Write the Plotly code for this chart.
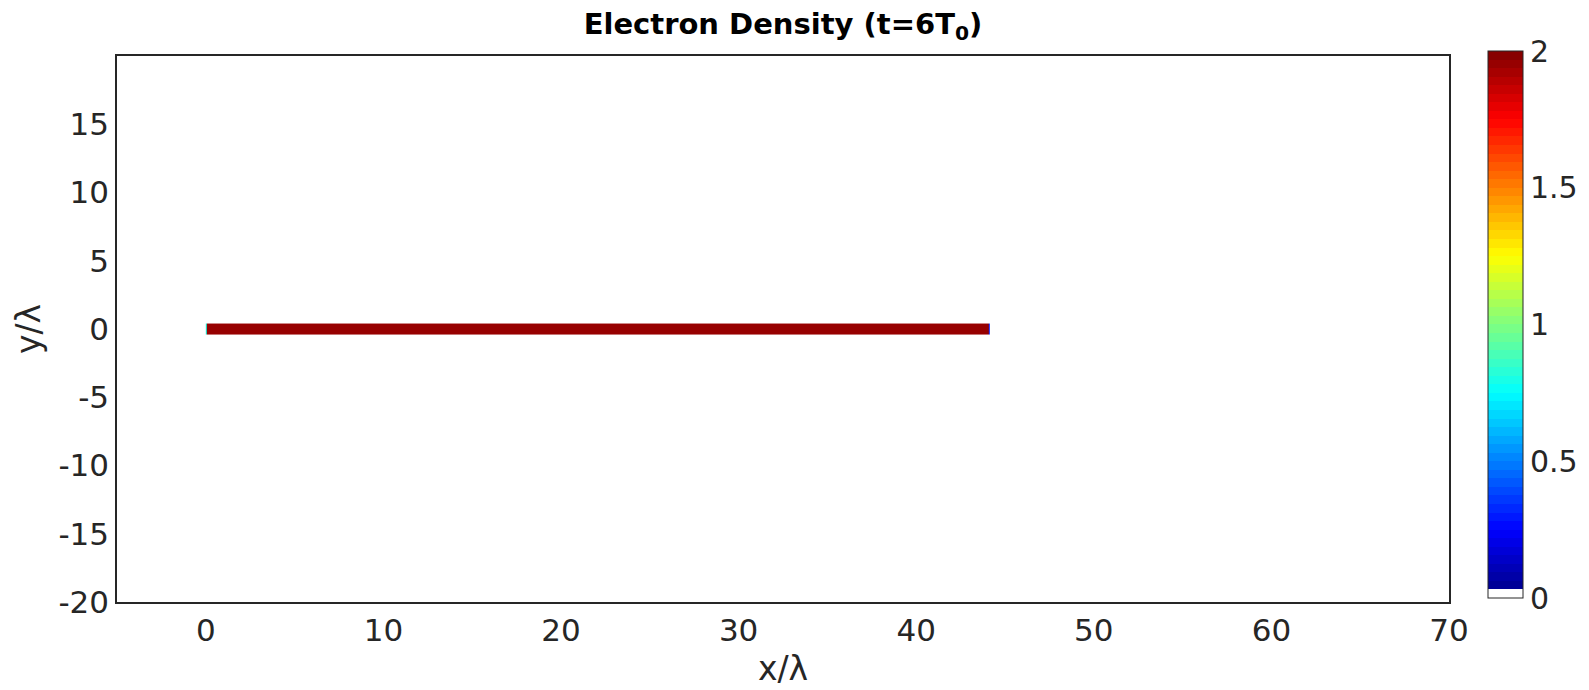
import plotly.graph_objects as go

# ---- data ----
x_edges = [0.0, 0.08, 44.07, 44.15]          # x/lambda cell edges of the target
y_edges = [-0.4, 0.4]                        # y/lambda cell edges
density = [[0.8, 1.95, 0.3]]                 # electron density per cell

x_ticks = [0, 10, 20, 30, 40, 50, 60, 70]
y_ticks = [-20, -15, -10, -5, 0, 5, 10, 15]
y_ticklabels = ["-20", "-15", "-10", "-5", "0", "5", "10", "15"]
cb_ticks = [0, 0.5, 1, 1.5, 2]
cb_ticklabels = ["0", "0.5", "1", "1.5", "2"]

# ---- jet(64) colormap with the first level white ----
def jet(v):
    r = min(max(min(4 * v - 1.5, -4 * v + 4.5), 0), 1)
    g = min(max(min(4 * v - 0.5, -4 * v + 3.5), 0), 1)
    b = min(max(min(4 * v + 0.5, -4 * v + 2.5), 0), 1)
    return "rgb(%d,%d,%d)" % (round(r * 255), round(g * 255), round(b * 255))

N = 64
colors = [jet((i + 0.5) / N) for i in range(N)]
colors[0] = "rgb(255,255,255)"
cscale = []
for i, c in enumerate(colors):
    cscale.append([i / N, c])
    cscale.append([(i + 1) / N, c])

font = "DejaVu Sans"
txt = "#262626"

fig = go.Figure(go.Heatmap(
    x=x_edges, y=y_edges, z=density,
    colorscale=cscale, zmin=0, zmax=2, zsmooth=False,
    colorbar=dict(
        x=1.0293, xanchor="left", xref="paper",
        y=0.508, yanchor="middle", len=1.002, lenmode="fraction",
        thickness=35, thicknessmode="pixels",
        outlinewidth=1, outlinecolor="#262626",
        tickvals=cb_ticks, ticktext=cb_ticklabels,
        ticks="", ticklabelposition="outside",
        tickfont=dict(family=font, size=30, color=txt),
        xpad=0, ypad=0,
    ),
    hoverinfo="skip",
))

fig.update_layout(
    width=1589, height=690,
    margin=dict(l=117, r=140, t=56, b=88, autoexpand=False),
    paper_bgcolor="white", plot_bgcolor="white",
    title=dict(text="<b>Electron Density (t=6T<sub>0</sub>)</b>", x=0.5, xref="paper",
               xanchor="center", y=0.966, yanchor="middle", automargin=False,
               font=dict(family=font, size=29, color="black")),
    xaxis=dict(range=[-5, 70], tickvals=x_ticks, showgrid=False, zeroline=False,
               showline=True, linecolor="#262626", linewidth=1.5, mirror=True,
               ticks="", automargin=False, tickfont=dict(family=font, size=31, color=txt),
               title=dict(text="x/λ", font=dict(family=font, size=33, color=txt), standoff=10)),
    yaxis=dict(range=[-20, 20], tickvals=y_ticks, ticktext=y_ticklabels, showgrid=False,
               zeroline=False, automargin=False,
               showline=True, linecolor="#262626", linewidth=1.5, mirror=True,
               ticks="", tickfont=dict(family=font, size=31, color=txt),
               title=dict(text="y/λ", font=dict(family=font, size=33, color=txt), standoff=8)),
)

fig.write_html("out.html", config={"displayModeBar": False},
               post_script="document.body.style.margin='0';")
